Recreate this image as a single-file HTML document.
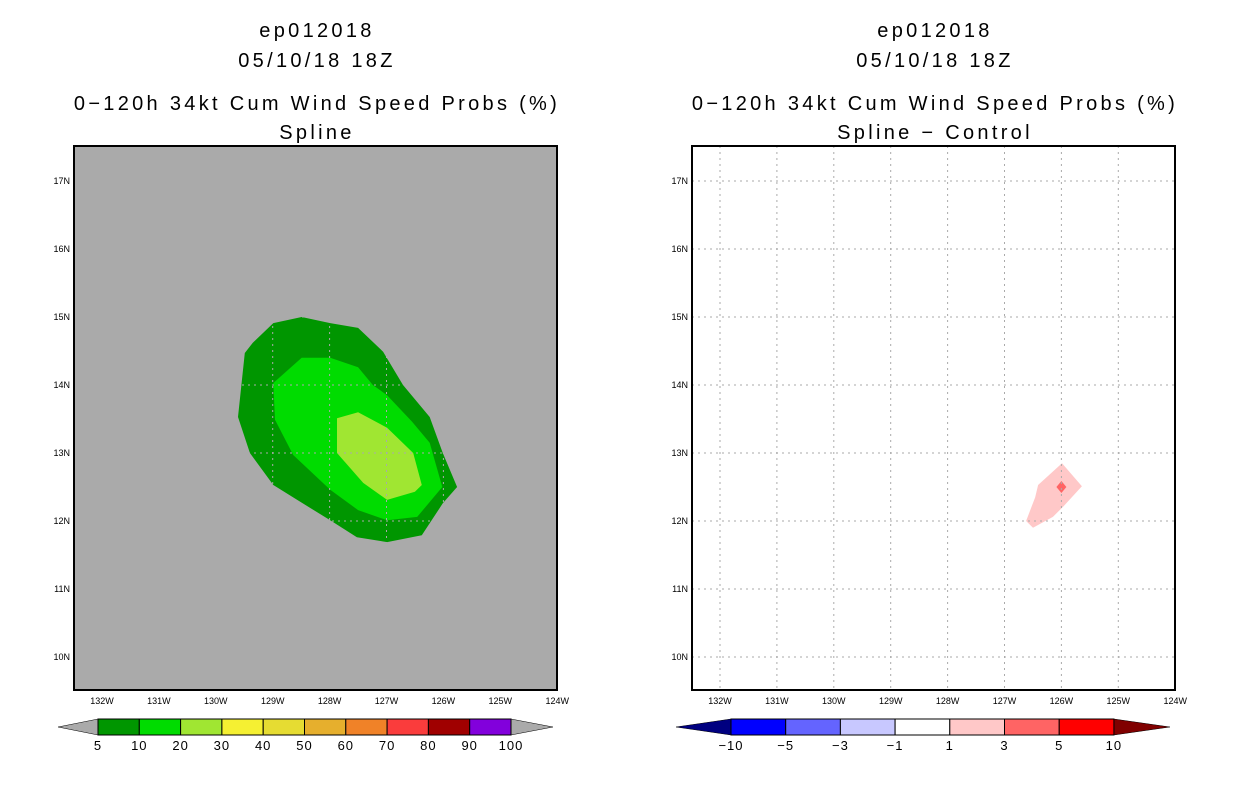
<!DOCTYPE html>
<html><head><meta charset="utf-8"><style>
body{margin:0;background:#fff;}
svg{display:block;font-family:"Liberation Sans",sans-serif;}
</style></head><body>
<svg id="s" width="1236" height="800" xmlns="http://www.w3.org/2000/svg"></svg>
<script>
const lonTicks=[-132,-131,-130,-129,-128,-127,-126,-125,-124];
const lonLabels=["132W","131W","130W","129W","128W","127W","126W","125W","124W"];
const latTicks=[10,11,12,13,14,15,16,17];
const latLabels=["10N","11N","12N","13N","14N","15N","16N","17N"];
const outerLon=[-128.99,-128.49,-127.99,-127.50,-127.06,-126.71,-126.24,-126.01,-125.76,-126.01,-126.38,-126.99,-127.52,-127.99,-128.57,-128.99,-129.40,-129.61,-129.49,-129.35];
const outerLat=[14.91,15.0,14.91,14.84,14.49,14.0,13.53,13.0,12.5,12.26,11.79,11.69,11.76,12.01,12.31,12.53,13.0,13.53,14.47,14.62];
const midLon=[-128.99,-128.49,-127.99,-127.50,-127.24,-126.99,-126.55,-126.24,-126.02,-126.46,-126.99,-127.50,-127.99,-128.64,-128.96];
const midLat=[14.03,14.40,14.40,14.26,14.0,13.85,13.46,13.15,12.50,12.06,12.01,12.16,12.46,12.97,13.49];
const innerLon=[-127.87,-127.50,-126.99,-126.53,-126.38,-126.50,-126.99,-127.41,-127.87];
const innerLat=[13.51,13.60,13.37,13.0,12.53,12.43,12.31,12.56,13.0];
const diffLon=[-125.99,-125.64,-125.97,-126.15,-126.50,-126.62,-126.46,-126.41];
const diffLat=[12.85,12.51,12.21,12.06,11.90,12.0,12.35,12.53];
const peakLon=[-126.0];const peakLat=[12.5];
const leftLevels=["5","10","20","30","40","50","60","70","80","90","100"];
const leftColors=["#009600","#00dc00","#a0e632","#f5f032","#e6dc32","#e6af2d","#f08228","#fa3c3c","#a00000","#8200dc"];
const rightLevels=["−10","−5","−3","−1","1","3","5","10"];
const rightColors=["#0000ff","#6464ff","#c8c8ff","#ffffff","#ffc8c8","#ff6464","#ff0000"];

const S=document.getElementById('s');
const NS="http://www.w3.org/2000/svg";
function mk(t,a,p){const e=document.createElementNS(NS,t);for(const k in a)e.setAttribute(k,a[k]);(p||S).appendChild(e);return e;}
const X0=[74,692],Y0=146,W=483,H=544;
function xs(p,lon){return X0[p]+28+(lon+132)*56.9;}
function ys(lat){return 181+(17-lat)*68;}
function pts(p,lo,la){return lo.map((v,i)=>xs(p,v).toFixed(1)+","+ys(la[i]).toFixed(1)).join(" ");}
function txt(x,y,s,size,anchor){const t=mk('text',{x:x,y:y,'font-size':size,'text-anchor':anchor||'middle',fill:'#000'});t.textContent=s;return t;}

const titles=[["ep012018","05/10/18 18Z","0−120h 34kt Cum Wind Speed Probs (%)","Spline"],["ep012018","05/10/18 18Z","0−120h 34kt Cum Wind Speed Probs (%)","Spline − Control"]];
for(let p=0;p<2;p++){
  const cx=X0[p]+W/2;
  const tl=[30,60,103,132];
  for(let i=0;i<4;i++){const t=txt(cx+1.5,tl[i]+7,titles[p][i],20);
    t.setAttribute('letter-spacing','3.3');
    
    }
  const bg=mk('rect',{x:X0[p],y:Y0,width:W,height:H,fill:p?'#fff':'#aaaaaa'});
  
  
  if(p==0){
    const a=mk('polygon',{points:pts(0,outerLon,outerLat),fill:leftColors[0]});
    
    const b=mk('polygon',{points:pts(0,midLon,midLat),fill:leftColors[1]});
    
    const c=mk('polygon',{points:pts(0,innerLon,innerLat),fill:leftColors[2]});
    
  } else {
    const a=mk('polygon',{points:pts(1,diffLon,diffLat),fill:'#ffc8c8'});
    
    const x=xs(1,peakLon[0]),y=ys(peakLat[0]);
    const d=mk('polygon',{points:`${x},${y-6} ${x+5},${y} ${x},${y+6} ${x-5},${y}`,fill:'#ff6464'});
    
  }
  const gc='#aaaaaa';
  lonTicks.forEach((lo,i)=>{const x=xs(p,lo);
    if(i<lonTicks.length-1){const g=mk('line',{x1:x,y1:Y0,x2:x,y2:Y0+H,stroke:gc,'stroke-dasharray':'2,4','stroke-width':1});
      }
    const t=txt(x,704,lonLabels[i],9);});
  latTicks.forEach((la,i)=>{const y=ys(la);
    const g=mk('line',{x1:X0[p],y1:y,x2:X0[p]+W,y2:y,stroke:gc,'stroke-dasharray':'2,4','stroke-width':1});
    
    const t=txt(X0[p]-4,y+3,latLabels[i],9,'end');});
  const fr=mk('rect',{x:X0[p],y:Y0,width:W,height:H,fill:'none',stroke:'#000','stroke-width':2});
  
}
(function(){const x0=98,w=41.3,y=719,h=16;
  const la=mk('polygon',{points:`58,727 ${x0},${y} ${x0},${y+h}`,fill:'#aaaaaa',stroke:'#000','stroke-width':0.5});
  
  const xe=x0+w*leftColors.length;
  const ra=mk('polygon',{points:`${xe},${y} 553,727 ${xe},${y+h}`,fill:'#aaaaaa',stroke:'#000','stroke-width':0.5});
  
  leftColors.forEach((c,i)=>{const r=mk('rect',{x:x0+i*w,y:y,width:w,height:h,fill:c,stroke:'#000','stroke-width':1});
    });
  leftLevels.forEach((l,i)=>{const t=txt(x0+i*w,750,l,13);t.setAttribute('letter-spacing','1');});
})();
(function(){const x0=731,w=54.7,y=719,h=16;
  const xe=x0+w*rightColors.length;
  const la=mk('polygon',{points:`676,727 ${x0},${y} ${x0},${y+h}`,fill:'#000080',stroke:'#000','stroke-width':0.5});
  
  const ra=mk('polygon',{points:`${xe},${y} 1170,727 ${xe},${y+h}`,fill:'#800000',stroke:'#000','stroke-width':0.5});
  
  rightColors.forEach((c,i)=>{const r=mk('rect',{x:x0+i*w,y:y,width:w,height:h,fill:c,stroke:'#000','stroke-width':1});
    });
  rightLevels.forEach((l,i)=>{const t=txt(x0+i*w,750,l,13);t.setAttribute('letter-spacing','1');});
})();
</script>
</body></html>
